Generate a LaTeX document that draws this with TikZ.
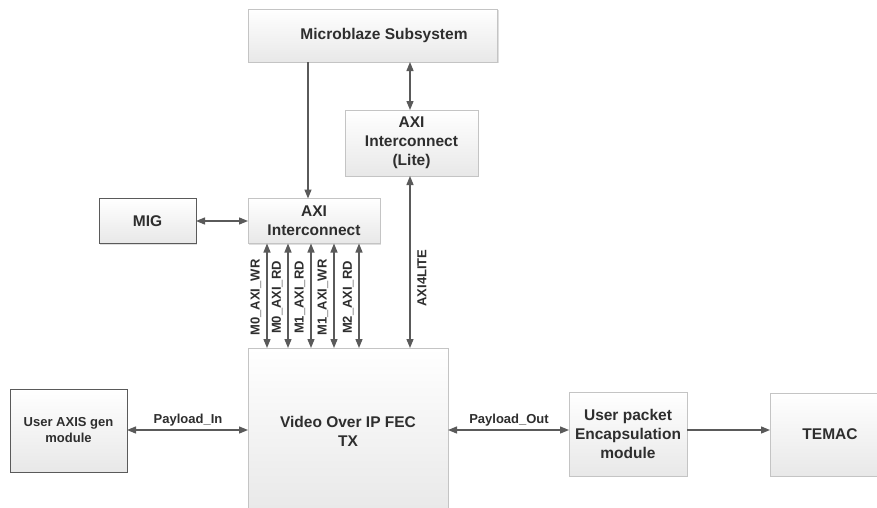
\documentclass[tikz,border=0pt]{standalone}
\usepackage{fontspec}
\setmainfont{Liberation Sans}
\usetikzlibrary{arrows.meta,shadows}
\definecolor{txt}{HTML}{2E2E2E}
\definecolor{ln}{HTML}{5A5A5A}
\definecolor{bd}{HTML}{C4C4C4}
\definecolor{bdk}{HTML}{5A5A5A}
\definecolor{bot}{HTML}{E8E8E8}
\begin{document}
\begin{tikzpicture}[x=1pt,y=-1pt,
  blk/.style={draw=bd, line width=0.8pt, top color=white, bottom color=bot, text=txt,
    font=\fontsize{15.5}{19}\selectfont\bfseries, align=center, inner sep=0pt, outer sep=0pt,
    drop shadow={shadow xshift=1.2pt, shadow yshift=-1.2pt, opacity=0.25, fill=black!50}},
  dblk/.style={blk, draw=bdk},
  lab/.style={text=txt, font=\fontsize{13}{16}\selectfont\bfseries, inner sep=0pt},
  con/.style={draw=ln, line width=1.3pt},
  two/.style={con, {Triangle[length=9pt,width=7pt]}-{Triangle[length=9pt,width=7pt]}},
  one/.style={con, -{Triangle[length=9pt,width=7pt]}},
]
\useasboundingbox (0,0) rectangle (877,507);
\clip (0,0) rectangle (877,507);
\fill[white] (0,0) rectangle (877,507);

\node[blk, minimum width=249pt, minimum height=53pt] (mb) at (373,35.5) {\hspace*{22pt}Microblaze Subsystem};
\node[blk, minimum width=133pt, minimum height=66pt] (lite) at (411.5,143) {AXI\\Interconnect\\(Lite)};
\node[blk, minimum width=132pt, minimum height=45pt] (axi) at (314,221) {AXI\\Interconnect};
\node[dblk, minimum width=97pt, minimum height=45pt] (mig) at (147.5,221) {MIG};
\node[blk, minimum width=200pt, minimum height=167pt] (vid) at (348,431.5) {Video Over IP FEC\\TX};
\node[dblk, minimum width=117pt, minimum height=83pt, font=\fontsize{13}{16}\selectfont\bfseries] (usr) at (68.5,430.5) {User AXIS gen\\module};
\node[blk, minimum width=118pt, minimum height=84pt] (pkt) at (628,434) {User packet\\Encapsulation\\module};
\node[blk, minimum width=120pt, minimum height=83pt] (tem) at (830,434.5) {TEMAC};

\draw[one] (mb.south -| 308,0) -- (axi.north -| 308,0);
\draw[two] (mb.south -| 410,0) -- (lite.north -| 410,0);
\draw[two] (lite.south -| 410,0) -- (vid.north -| 410,0);
\draw[two] (mig.east) -- (mig.east -| axi.west);
\foreach \x in {267,288,311,334,359}
  \draw[two] (axi.south -| \x,0) -- (vid.north -| \x,0);
\draw[two] (usr.east |- 0,430) -- (vid.west |- 0,430);
\draw[two] (vid.east |- 0,430) -- (pkt.west |- 0,430);
\draw[one] (pkt.east |- 0,430) -- (tem.west |- 0,430);

\node[lab] (pin) at (188,420) {Payload\_In};
\node[lab] (pout) at (509,420) {Payload\_Out};
\node[lab, rotate=90] (l1) at (256,297.5) {M0\_AXI\_WR};
\node[lab, rotate=90] (l2) at (277,297.5) {M0\_AXI\_RD};
\node[lab, rotate=90] (l3) at (300,297.5) {M1\_AXI\_RD};
\node[lab, rotate=90] (l4) at (323,297.5) {M1\_AXI\_WR};
\node[lab, rotate=90] (l5) at (348,297.5) {M2\_AXI\_RD};
\node[lab, rotate=90] (l6) at (422,278) {AXI4LITE};
\end{tikzpicture}
\end{document}
